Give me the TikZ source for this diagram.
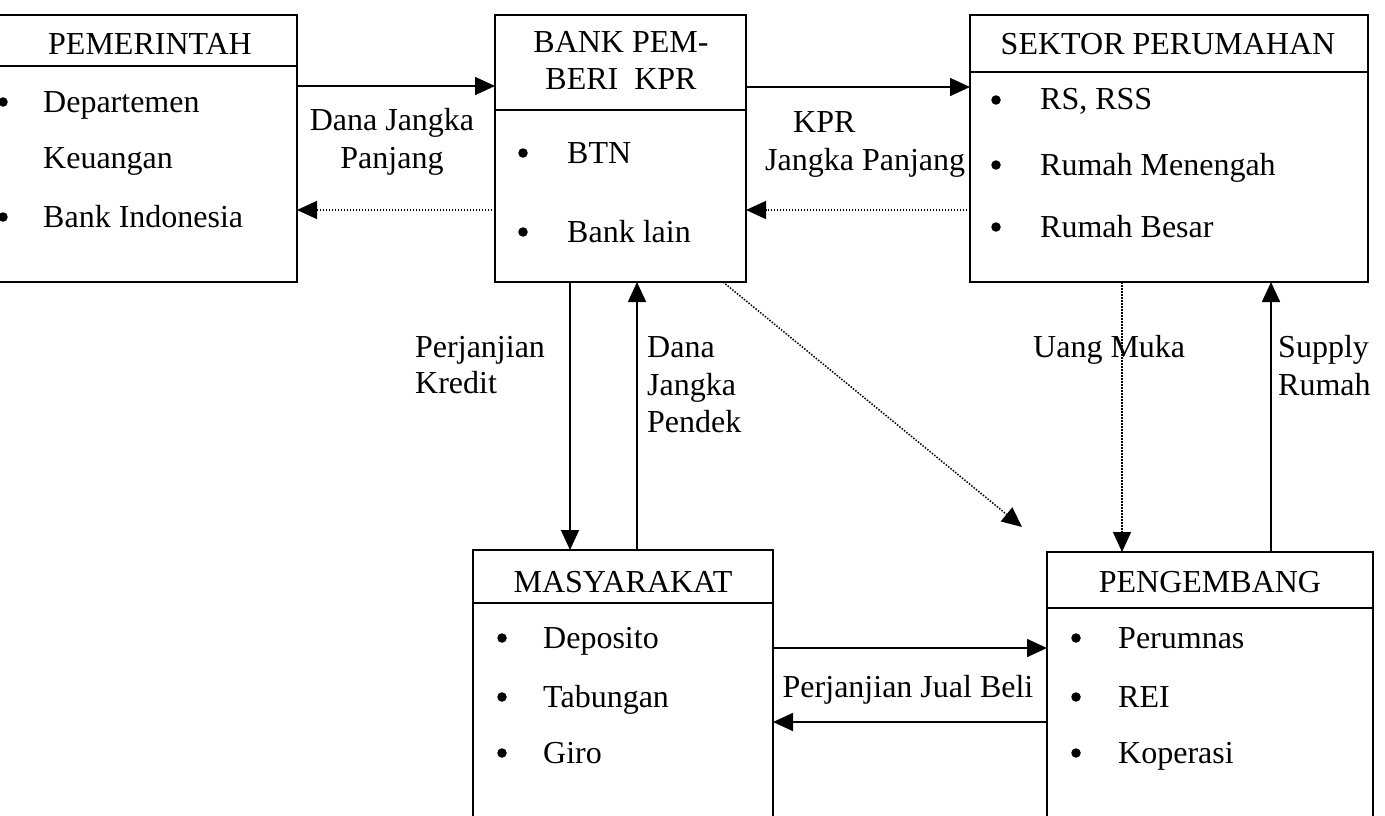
\documentclass[tikz,border=0pt]{standalone}
\usepackage{fontspec}
\setmainfont{Liberation Serif}
\usetikzlibrary{arrows.meta}
\tikzset{
  box/.style={draw, line width=1.8pt, rectangle, inner sep=0pt, outer sep=0pt, anchor=north west},
  hline/.style={line width=1.6pt},
  txt/.style={inner sep=0pt, anchor=base west, font=\fontsize{32}{38}\selectfont},
  ctxt/.style={inner sep=0pt, anchor=base, font=\fontsize{32}{38}\selectfont},
  bul/.style={circle, fill, inner sep=0pt, minimum size=9.5pt, yshift=10pt},
  arr/.style={line width=1.6pt, -{Triangle[length=20pt,width=18pt]}},
  darr/.style={line width=1.5pt, dash pattern=on 1.5pt off 1.5pt, -{Triangle[length=20pt,width=18pt]}},
}
\begin{document}
\begin{tikzpicture}[x=1pt,y=-1pt]
\useasboundingbox (0,0) rectangle (1385,816);
% boxes
\node[box, minimum width=307pt, minimum height=267pt] (pem) at (-10,15) {};
\node[box, minimum width=251pt, minimum height=267pt] (bank) at (495,15) {};
\node[box, minimum width=398pt, minimum height=267pt] (sek) at (970,15) {};
\node[box, minimum width=300pt, minimum height=290pt] (mas) at (473,550) {};
\node[box, minimum width=326pt, minimum height=290pt] (pen) at (1047,552) {};
% header lines
\draw[hline] (pem.west |- 0,66) -- (pem.east |- 0,66);
\draw[hline] (bank.west |- 0,110) -- (bank.east |- 0,110);
\draw[hline] (sek.west |- 0,72) -- (sek.east |- 0,72);
\draw[hline] (mas.west |- 0,603) -- (mas.east |- 0,603);
\draw[hline] (pen.west |- 0,608) -- (pen.east |- 0,608);
% PEMERINTAH
\node[ctxt] (pemH) at (150,55) {PEMERINTAH};
\node[bul] (pemB1) at (3,112) {};
\node[txt] (pemT1) at (43,112) {Departemen};
\node[txt] (pemT2) at (43,168) {Keuangan};
\node[bul] (pemB2) at (3,227) {};
\node[txt] (pemT3) at (43,227) {Bank Indonesia};
% BANK
\node[ctxt] (bankH1) at (621,53) {BANK PEM-};
\node[ctxt] (bankH2) at (621,90) {BERI\ \ KPR};
\node[bul] (bankB1) at (523,163) {};
\node[txt] (bankT1) at (567,163) {BTN};
\node[bul] (bankB2) at (523,242) {};
\node[txt] (bankT2) at (567,242) {Bank lain};
% SEKTOR
\node[ctxt] (sekH) at (1168,55) {SEKTOR PERUMAHAN};
\node[bul] (sekB1) at (996,110) {};
\node[txt] (sekT1) at (1040,110) {RS, RSS};
\node[bul] (sekB2) at (996,175) {};
\node[txt] (sekT2) at (1040,175) {Rumah Menengah};
\node[bul] (sekB3) at (996,237) {};
\node[txt] (sekT3) at (1040,237) {Rumah Besar};
% MASYARAKAT
\node[ctxt] (masH) at (623,592) {MASYARAKAT};
\node[bul] (masB1) at (502,648) {};
\node[txt] (masT1) at (543,648) {Deposito};
\node[bul] (masB2) at (502,707) {};
\node[txt] (masT2) at (543,707) {Tabungan};
\node[bul] (masB3) at (502,763) {};
\node[txt] (masT3) at (543,763) {Giro};
% PENGEMBANG
\node[ctxt] (penH) at (1210,592) {PENGEMBANG};
\node[bul] (penB1) at (1076,648) {};
\node[txt] (penT1) at (1118,648) {Perumnas};
\node[bul] (penB2) at (1076,707) {};
\node[txt] (penT2) at (1118,707) {REI};
\node[bul] (penB3) at (1076,763) {};
\node[txt] (penT3) at (1118,763) {Koperasi};
% connectors
\draw[arr] (pem.east |- 0,86) -- (bank.west |- 0,86);
\draw[darr] (bank.west |- 0,210) -- (pem.east |- 0,210);
\draw[arr] (bank.east |- 0,87) -- (sek.west |- 0,87);
\draw[darr] (sek.west |- 0,210) -- (bank.east |- 0,210);
\draw[arr] (bank.south -| 570,0) -- (mas.north -| 570,0);
\draw[arr] (mas.north -| 637,0) -- (bank.south -| 637,0);
\coordinate (diagEnd) at (1022,527);
\draw[darr] (bank.south -| 723,0) -- (diagEnd);
\draw[darr] (sek.south -| 1122,0) -- (pen.north -| 1122,0);
\draw[arr] (pen.north -| 1271,0) -- (sek.south -| 1271,0);
\draw[arr] (mas.east |- 0,648) -- (pen.west |- 0,648);
\draw[arr] (pen.west |- 0,722) -- (mas.east |- 0,722);
% labels
\node[ctxt] (lDJ1) at (392,130) {Dana Jangka};
\node[ctxt] (lDJ2) at (392,168) {Panjang};
\node[txt] (lKPR1) at (793,132) {KPR};
\node[txt] (lKPR2) at (765,170) {Jangka Panjang};
\node[txt] (lPK1) at (415,357) {Perjanjian};
\node[txt] (lPK2) at (415,393) {Kredit};
\node[txt] (lDP1) at (647,357) {Dana};
\node[txt] (lDP2) at (647,395) {Jangka};
\node[txt] (lDP3) at (647,432) {Pendek};
\node[txt] (lUM) at (1033,357) {Uang Muka};
\node[txt] (lSR1) at (1278,357) {Supply};
\node[txt] (lSR2) at (1278,395) {Rumah};
\node[ctxt] (lPJB) at (908,697) {Perjanjian Jual Beli};
\end{tikzpicture}
\end{document}
